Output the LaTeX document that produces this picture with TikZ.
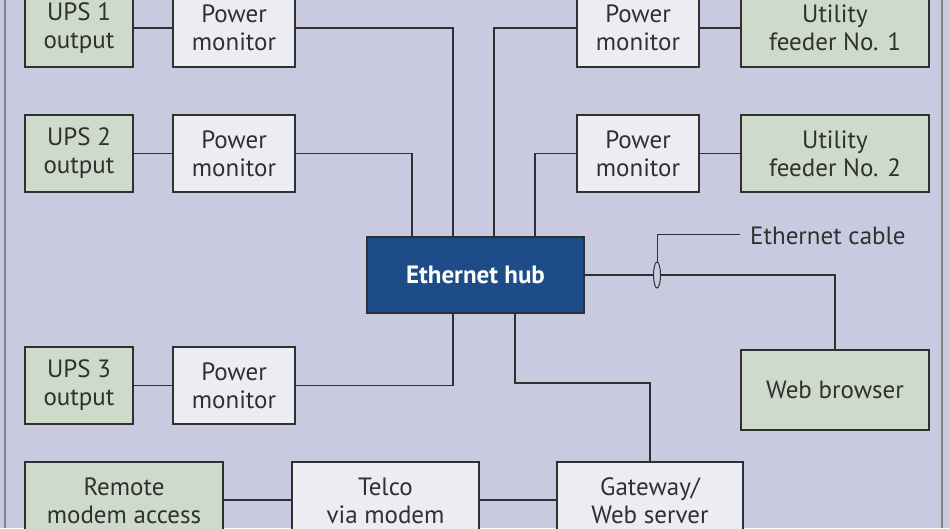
\documentclass[tikz,border=0pt]{standalone}
\usepackage{fontspec}
\usetikzlibrary{shapes.geometric}
\setmainfont{PT Sans}
\definecolor{bg}{HTML}{C9CADF}
\definecolor{grn}{HTML}{CEDBCB}
\definecolor{lt}{HTML}{ECEDF2}
\definecolor{hub}{HTML}{1E4C88}
\definecolor{ln}{HTML}{303030}
\tikzset{x=1pt,y=-1pt,
 bx/.style={draw=ln,line width=1.6pt,align=center,font=\fontsize{25}{28}\selectfont,text=ln,inner sep=0pt},
 gb/.style={bx,fill=grn},
 wb/.style={bx,fill=lt},
 hb/.style={bx,fill=hub,text=white,font=\fontsize{25}{28}\selectfont\bfseries},
 cn/.style={draw=ln,line width=1.6pt}}
\newcommand{\bxat}[6]{\node[#1,minimum width=#4-#2,minimum height=#5-#3] (#6) at ({(#2+#4)/2},{(#3+#5)/2})}
\begin{document}
\begin{tikzpicture}
\useasboundingbox (0,0) rectangle (950,528);
\fill[bg] (0,0) rectangle (950,528);
\draw[ln!60,line width=1.2pt] (5,0) -- (5,528) (942,0) -- (942,528);
\bxat{gb}{25}{-11}{133}{67}{u1} {UPS 1\\output};
\bxat{wb}{173}{-11}{295}{67}{p1} {Power\\monitor};
\bxat{wb}{577}{-11}{699}{67}{q1} {Power\\monitor};
\bxat{gb}{741}{-11}{929}{67}{f1} {Utility\\feeder No. 1};
\bxat{gb}{25}{115}{133}{192}{u2} {UPS 2\\output};
\bxat{wb}{173}{115}{295}{192}{p2} {Power\\monitor};
\bxat{wb}{577}{115}{699}{192}{q2} {Power\\monitor};
\bxat{gb}{741}{115}{929}{192}{f2} {Utility\\feeder No. 2};
\bxat{hb}{367}{237}{584}{313}{h} {Ethernet hub};
\bxat{gb}{25}{347}{133}{424}{u3} {UPS 3\\output};
\bxat{wb}{173}{347}{295}{424}{p3} {Power\\monitor};
\bxat{gb}{741}{350}{929}{430}{w} {Web browser};
\bxat{gb}{25}{462}{223}{540}{r} {Remote\\modem access};
\bxat{wb}{292}{462}{479}{540}{t} {Telco\\via modem};
\bxat{wb}{557}{462}{743}{540}{g} {Gateway/\\Web server};
\draw[cn] (u1.east|-0,28) -- (p1.west|-0,28);
\draw[cn] (u2) -- (p2);
\draw[cn] (u3) -- (p3);
\draw[cn] (q1.east|-0,28) -- (f1.west|-0,28);
\draw[cn] (q2) -- (f2);
\draw[cn] (p1.east|-0,28) -| (453,0|-h.north);
\draw[cn] (p2.east) -| (412,0|-h.north);
\draw[cn] (q1.west|-0,28) -| (494,0|-h.north);
\draw[cn] (q2.west) -| (535,0|-h.north);
\draw[cn] (p3.east) -| (453,0|-h.south);
\draw[cn] (515,0|-h.south) |- (650,383) -- (650,0|-g.north);
\draw[cn] (h.east) -| (w.north);
\draw[cn] (r.east|-0,500) -- (t.west|-0,500);
\draw[cn] (t.east|-0,500) -- (g.west|-0,500);
\node[draw=ln,line width=1pt,fill=bg,ellipse,minimum width=7,minimum height=26,inner sep=0pt] (m) at (657,275) {};
\coordinate (lk) at (740,234);
\draw[ln,line width=1pt] (m.north) |- (lk);
\node[anchor=west,font=\fontsize{25}{28}\selectfont,text=ln,inner sep=0pt] (ec) at (750,236) {Ethernet cable};
\end{tikzpicture}
\end{document}
